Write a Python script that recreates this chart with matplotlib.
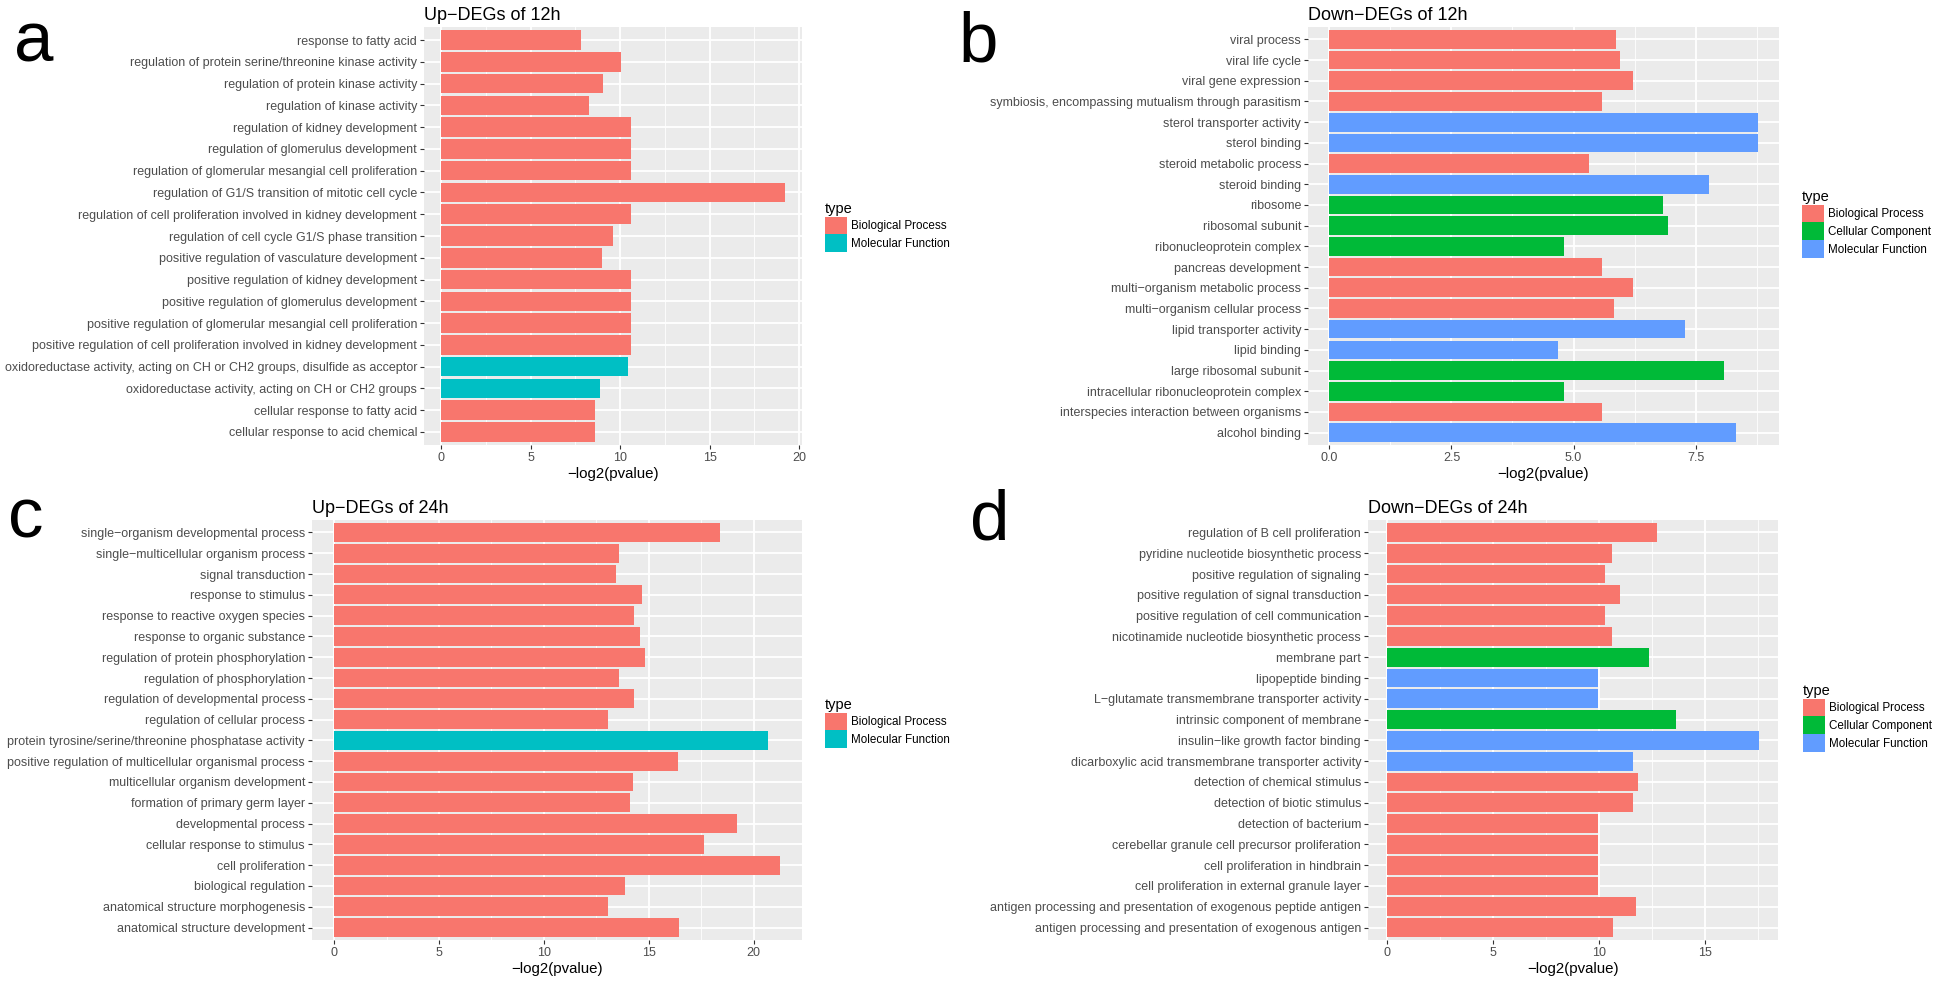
import numpy as np
import matplotlib
matplotlib.use('Agg')
import matplotlib.pyplot as plt
from matplotlib.patches import Patch

plt.rcParams['font.family'] = ['Liberation Sans', 'DejaVu Sans']

W, H = 1946, 982

# ---- panel a: Up-DEGs of 12h (listed top to bottom) ----
terms_a = [
    "response to fatty acid",
    "regulation of protein serine/threonine kinase activity",
    "regulation of protein kinase activity",
    "regulation of kinase activity",
    "regulation of kidney development",
    "regulation of glomerulus development",
    "regulation of glomerular mesangial cell proliferation",
    "regulation of G1/S transition of mitotic cell cycle",
    "regulation of cell proliferation involved in kidney development",
    "regulation of cell cycle G1/S phase transition",
    "positive regulation of vasculature development",
    "positive regulation of kidney development",
    "positive regulation of glomerulus development",
    "positive regulation of glomerular mesangial cell proliferation",
    "positive regulation of cell proliferation involved in kidney development",
    "oxidoreductase activity, acting on CH or CH2 groups, disulfide as acceptor",
    "oxidoreductase activity, acting on CH or CH2 groups",
    "cellular response to fatty acid",
    "cellular response to acid chemical",
]
values_a = [7.8, 10.05, 9.05, 8.25, 10.6, 10.6, 10.6, 19.2, 10.6, 9.6, 9.0,
            10.6, 10.6, 10.6, 10.6, 10.45, 8.85, 8.6, 8.6]
types_a = ["BP"] * 15 + ["MF", "MF", "BP", "BP"]

# ---- panel b: Down-DEGs of 12h ----
terms_b = [
    "viral process",
    "viral life cycle",
    "viral gene expression",
    "symbiosis, encompassing mutualism through parasitism",
    "sterol transporter activity",
    "sterol binding",
    "steroid metabolic process",
    "steroid binding",
    "ribosome",
    "ribosomal subunit",
    "ribonucleoprotein complex",
    "pancreas development",
    "multi\u2212organism metabolic process",
    "multi\u2212organism cellular process",
    "lipid transporter activity",
    "lipid binding",
    "large ribosomal subunit",
    "intracellular ribonucleoprotein complex",
    "interspecies interaction between organisms",
    "alcohol binding",
]
values_b = [5.86, 5.96, 6.22, 5.58, 8.77, 8.77, 5.32, 7.77, 6.84, 6.94, 4.81,
            5.58, 6.22, 5.82, 7.28, 4.68, 8.09, 4.81, 5.58, 8.33]
types_b = ["BP", "BP", "BP", "BP", "MF", "MF", "BP", "MF", "CC", "CC", "CC",
           "BP", "BP", "BP", "MF", "MF", "CC", "CC", "BP", "MF"]

# ---- panel c: Up-DEGs of 24h ----
terms_c = [
    "single\u2212organism developmental process",
    "single\u2212multicellular organism process",
    "signal transduction",
    "response to stimulus",
    "response to reactive oxygen species",
    "response to organic substance",
    "regulation of protein phosphorylation",
    "regulation of phosphorylation",
    "regulation of developmental process",
    "regulation of cellular process",
    "protein tyrosine/serine/threonine phosphatase activity",
    "positive regulation of multicellular organismal process",
    "multicellular organism development",
    "formation of primary germ layer",
    "developmental process",
    "cellular response to stimulus",
    "cell proliferation",
    "biological regulation",
    "anatomical structure morphogenesis",
    "anatomical structure development",
]
values_c = [18.4, 13.6, 13.45, 14.7, 14.3, 14.6, 14.8, 13.6, 14.3, 13.05,
            20.7, 16.4, 14.25, 14.1, 19.2, 17.65, 21.25, 13.85, 13.05, 16.45]
types_c = ["BP"] * 10 + ["MF"] + ["BP"] * 9

# ---- panel d: Down-DEGs of 24h ----
terms_d = [
    "regulation of B cell proliferation",
    "pyridine nucleotide biosynthetic process",
    "positive regulation of signaling",
    "positive regulation of signal transduction",
    "positive regulation of cell communication",
    "nicotinamide nucleotide biosynthetic process",
    "membrane part",
    "lipopeptide binding",
    "L\u2212glutamate transmembrane transporter activity",
    "intrinsic component of membrane",
    "insulin\u2212like growth factor binding",
    "dicarboxylic acid transmembrane transporter activity",
    "detection of chemical stimulus",
    "detection of biotic stimulus",
    "detection of bacterium",
    "cerebellar granule cell precursor proliferation",
    "cell proliferation in hindbrain",
    "cell proliferation in external granule layer",
    "antigen processing and presentation of exogenous peptide antigen",
    "antigen processing and presentation of exogenous antigen",
]
values_d = [12.75, 10.62, 10.27, 10.98, 10.27, 10.62, 12.37, 9.94, 9.94, 13.64,
            17.57, 11.63, 11.86, 11.63, 9.94, 9.94, 9.94, 9.94, 11.75, 10.68]
types_d = ["BP"] * 6 + ["CC", "MF", "MF", "CC", "MF", "MF"] + ["BP"] * 8

type_names = {"BP": "Biological Process", "CC": "Cellular Component",
              "MF": "Molecular Function"}
colors_2 = {"BP": "#F8766D", "MF": "#00BFC4"}
colors_3 = {"BP": "#F8766D", "CC": "#00BA38", "MF": "#619CFF"}


def rect(x0, y0, x1, y1):
    # pixel box (from top-left) -> figure fraction
    return [x0 / W, 1 - y1 / H, (x1 - x0) / W, (y1 - y0) / H]


def draw_panel(ax, terms, values, types, colors, title, ticks, ticklabels,
               minor, legend_xy):
    n = len(terms)
    ypos = np.arange(n)[::-1] + 1  # first term on top
    cols = [colors[t] for t in types]
    ax.barh(ypos, values, height=0.9, color=cols, zorder=2)

    vmax = max(values)
    ax.set_xlim(-0.05 * vmax, 1.05 * vmax)
    ax.set_ylim(0.4, n + 0.6)
    ax.set_yticks(ypos)
    ax.set_yticklabels(terms)
    ax.set_xticks(ticks)
    ax.set_xticklabels(ticklabels)
    ax.set_xticks(minor, minor=True)

    ax.set_facecolor("#EBEBEB")
    for s in ax.spines.values():
        s.set_visible(False)
    ax.grid(which="major", color="white", lw=1.3, zorder=0)
    ax.grid(which="minor", axis="x", color="white", lw=0.6, zorder=0)
    ax.set_axisbelow(True)
    ax.tick_params(which="major", length=3, width=0.8, color="#333333",
                   labelsize=9, labelcolor="#4D4D4D", pad=2)
    ax.tick_params(which="minor", length=0)

    ax.set_xlabel("\u2212log2(pvalue)", fontsize=10.8, labelpad=2)
    ax.set_title(title, loc="left", fontsize=13, pad=5)

    handles = [Patch(facecolor=colors[k], edgecolor="none", label=type_names[k])
               for k in colors]
    leg = ax.legend(handles=handles, title="type", loc="upper left",
                    bbox_to_anchor=(legend_xy[0] / W, 1 - legend_xy[1] / H),
                    bbox_transform=fig.transFigure, frameon=False,
                    fontsize=8.4, title_fontsize=10.5, borderpad=0,
                    borderaxespad=0, handlelength=1.9, handleheight=1.9,
                    labelspacing=0.05, handletextpad=0.35, alignment="left")
    return leg


fig = plt.figure(figsize=(W / 100, H / 100), dpi=100)

ax_a = fig.add_axes(rect(424, 27, 802, 445))
draw_panel(ax_a, terms_a, values_a, types_a, colors_2, "Up\u2212DEGs of 12h",
           [0, 5, 10, 15, 20], ["0", "5", "10", "15", "20"],
           [2.5, 7.5, 12.5, 17.5], (825, 202))

ax_b = fig.add_axes(rect(1308, 27, 1779, 445))
draw_panel(ax_b, terms_b, values_b, types_b, colors_3, "Down\u2212DEGs of 12h",
           [0, 2.5, 5, 7.5], ["0.0", "2.5", "5.0", "7.5"],
           [1.25, 3.75, 6.25, 8.75], (1802, 190))

ax_c = fig.add_axes(rect(312, 520, 802, 940))
draw_panel(ax_c, terms_c, values_c, types_c, colors_2, "Up\u2212DEGs of 24h",
           [0, 5, 10, 15, 20], ["0", "5", "10", "15", "20"],
           [2.5, 7.5, 12.5, 17.5], (825, 698))

ax_d = fig.add_axes(rect(1368, 520, 1778, 940))
draw_panel(ax_d, terms_d, values_d, types_d, colors_3, "Down\u2212DEGs of 24h",
           [0, 5, 10, 15], ["0", "5", "10", "15"],
           [2.5, 7.5, 12.5, 17.5], (1803, 684))

# panel letters
for letter, x, y in [("a", 14, 62), ("b", 958, 62), ("c", 8, 537), ("d", 970, 540)]:
    fig.text(x / W, 1 - y / H, letter, fontsize=51, ha="left", va="baseline",
             color="black")

fig.savefig("out.png", dpi=100)
